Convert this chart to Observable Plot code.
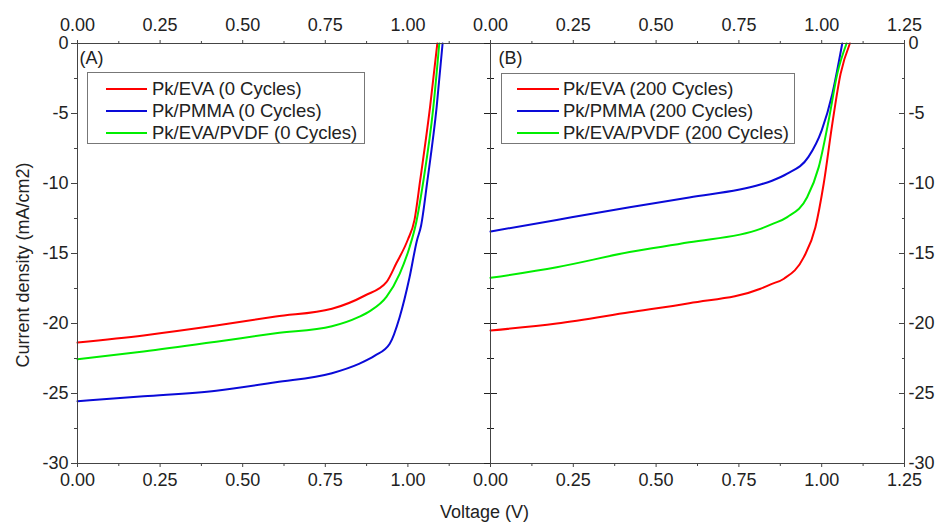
<!DOCTYPE html>
<html>
<head>
<meta charset="utf-8">
<script src="https://cdn.jsdelivr.net/npm/d3@7"></script>
<script src="https://cdn.jsdelivr.net/npm/@observablehq/plot@0.6"></script>
<style>
  html, body { margin: 0; padding: 0; background: #fff; }
  #wrap { position: relative; width: 943px; height: 525px; font-family: "Liberation Sans", Arial, sans-serif; color: #222; }
  #wrap svg { position: absolute; top: 0; }
  .legend { position: absolute; border: 1px solid #777; background: #fff; box-sizing: border-box; }
  .row { position: absolute; left: 0; height: 22px; line-height: 22px; font-size: 18.5px; white-space: nowrap; }
  .sw { position: absolute; height: 2px; }
  .lbl { position: absolute; top: 0; }
  .title { position: absolute; font-size: 18px; white-space: nowrap; color: #222; }
</style>
</head>
<body>
<div id="wrap"></div>
<script>
// ---------- data ----------
const xMajor = [0, 0.25, 0.5, 0.75, 1.0];
const xMajorB = [0, 0.25, 0.5, 0.75, 1.0, 1.25];
const xMinor = [0.125, 0.375, 0.625, 0.875, 1.125];
const yMajor = [0, -5, -10, -15, -20, -25, -30];
const yMinor = [-2.5, -7.5, -12.5, -17.5, -22.5, -27.5];

// Panel A (0 cycles)
const vEva0  = [0, 0.2, 0.42, 0.6, 0.77, 0.87, 0.935, 0.965, 1.0, 1.02, 1.037, 1.067, 1.089];
const jEva0  = [-21.36, -20.85, -20.15, -19.5, -18.95, -18.0, -17.05, -15.7, -14.0, -12.6, -9.8, -4.55, 0];
const vPmma0 = [0, 0.2, 0.42, 0.6, 0.77, 0.85, 0.9, 0.945, 0.975, 1.005, 1.027, 1.04, 1.059, 1.087, 1.105];
const jPmma0 = [-25.55, -25.2, -24.8, -24.2, -23.55, -22.9, -22.3, -21.45, -19.55, -16.7, -14.1, -13.0, -9.8, -4.55, 0];
const vPvdf0 = [0, 0.2, 0.42, 0.6, 0.77, 0.85, 0.886, 0.935, 0.975, 1.005, 1.025, 1.047, 1.077, 1.095];
const jPvdf0 = [-22.55, -22.0, -21.3, -20.7, -20.2, -19.55, -19.1, -18.1, -16.45, -14.55, -12.8, -9.8, -4.55, 0];

// Panel B (200 cycles)
const vEva200  = [0, 0.2, 0.42, 0.6, 0.815, 0.846, 0.886, 0.946, 0.981, 1.006, 1.032, 1.057, 1.085];
const jEva200  = [-20.5, -20.0, -19.2, -18.55, -17.52, -17.2, -16.8, -15.26, -13.12, -10.02, -5.74, -2.17, 0];
const vPmma200 = [0, 0.2, 0.42, 0.6, 0.815, 0.85, 0.896, 0.96, 1.0, 1.032, 1.062];
const jPmma200 = [-13.43, -12.6, -11.7, -11.0, -10.07, -9.8, -9.3, -8.1, -6.2, -3.6, 0];
const vPvdf200 = [0, 0.2, 0.42, 0.6, 0.815, 0.85, 0.896, 0.956, 0.991, 1.021, 1.047, 1.075];
const jPvdf200 = [-16.74, -15.98, -14.9, -14.2, -13.24, -12.9, -12.4, -10.98, -8.83, -5.5, -2.17, 0];

const namesA = ["Pk/EVA (0 Cycles)", "Pk/PMMA (0 Cycles)", "Pk/EVA/PVDF (0 Cycles)"];
const namesB = ["Pk/EVA (200 Cycles)", "Pk/PMMA (200 Cycles)", "Pk/EVA/PVDF (200 Cycles)"];
const colors = ["#ff0000", "#0a0ad8", "#00ee00"];

// ---------- build tables ----------
function table(name, vs, js) { return vs.map((v, i) => ({name, v, j: js[i]})); }
const dataA = [
  ...table(namesA[0], vEva0, jEva0),
  ...table(namesA[1], vPmma0, jPmma0),
  ...table(namesA[2], vPvdf0, jPvdf0)
];
const dataB = [
  ...table(namesB[0], vEva200, jEva200),
  ...table(namesB[1], vPmma200, jPmma200),
  ...table(namesB[2], vPvdf200, jPvdf200)
];

const axisColor = "#444";
const fmtX = d => d.toFixed(2);
const fmtY = d => String(d);
const common = {
  height: 525, marginTop: 43, marginBottom: 62,
  x: {domain: [0, 1.25]},
  y: {domain: [-30, 0]},
  style: {fontFamily: "Liberation Sans, Arial, sans-serif", fontSize: "18px", color: "#222", background: "transparent", overflow: "visible"}
};

function lines(data, names) {
  return Plot.line(data, {x: "v", y: "j", z: "name", stroke: d => colors[names.indexOf(d.name)], strokeWidth: 2, curve: "monotone-x"});
}

const left = Plot.plot({
  ...common,
  width: 496, marginLeft: 77, marginRight: 6,
  marks: [
    Plot.axisY(yMajor, {anchor: "left", tickSize: 6, tickPadding: 3, tickFormat: fmtY, stroke: axisColor, label: null}),
    Plot.axisY(yMinor, {anchor: "left", tickSize: 3, fill: "none", stroke: axisColor, label: null}),
    Plot.axisY(yMajor, {anchor: "right", tickSize: 6, fill: "none", stroke: "#222", label: null}),
    Plot.axisY(yMinor, {anchor: "right", tickSize: 3, fill: "none", stroke: "#222", label: null}),
    Plot.axisX(xMajor, {anchor: "bottom", tickSize: 4, tickPadding: 6, tickFormat: fmtX, stroke: axisColor, label: null}),
    Plot.axisX(xMinor, {anchor: "bottom", tickSize: 3, fill: "none", stroke: axisColor, label: null}),
    Plot.axisX(xMajor, {anchor: "top", tickSize: 0, tickPadding: 13, tickFormat: fmtX, label: null}),
    Plot.axisX(xMajor, {anchor: "top", tickSize: 4, fill: "none", stroke: axisColor, label: null}),
    Plot.axisX(xMinor, {anchor: "top", tickSize: 3, fill: "none", stroke: axisColor, label: null}),
    lines(dataA, namesA),
    Plot.frame({stroke: axisColor}),
    Plot.text(["(A)"], {frameAnchor: "top-left", dx: 2, dy: 8, textAnchor: "start", lineAnchor: "top", fontSize: 18, fill: "#222"})
  ]
});

const right = Plot.plot({
  ...common,
  width: 459, marginLeft: 6, marginRight: 39,
  marks: [
    Plot.axisY(yMajor, {anchor: "left", tickSize: 6, fill: "none", stroke: "#222", label: null}),
    Plot.axisY(yMinor, {anchor: "left", tickSize: 3, fill: "none", stroke: "#222", label: null}),
    Plot.axisY(yMajor, {anchor: "right", tickSize: 0, tickPadding: 4, tickFormat: fmtY, label: null}),
    Plot.axisY(yMajor, {anchor: "right", tickSize: -6, fill: "none", stroke: axisColor, label: null}),
    Plot.axisY(yMinor, {anchor: "right", tickSize: -3, fill: "none", stroke: axisColor, label: null}),
    Plot.axisX(xMajorB, {anchor: "bottom", tickSize: 4, tickPadding: 6, tickFormat: fmtX, stroke: axisColor, label: null}),
    Plot.axisX(xMinor, {anchor: "bottom", tickSize: 3, fill: "none", stroke: axisColor, label: null}),
    Plot.axisX(xMajorB, {anchor: "top", tickSize: 0, tickPadding: 13, tickFormat: fmtX, label: null}),
    Plot.axisX(xMajorB, {anchor: "top", tickSize: 4, fill: "none", stroke: axisColor, label: null}),
    Plot.axisX(xMinor, {anchor: "top", tickSize: 3, fill: "none", stroke: axisColor, label: null}),
    lines(dataB, namesB),
    Plot.frame({stroke: axisColor}),
    Plot.text(["(B)"], {frameAnchor: "top-left", dx: 8, dy: 8, textAnchor: "start", lineAnchor: "top", fontSize: 18, fill: "#222"})
  ]
});

const wrap = document.getElementById("wrap");
left.style.left = "0px";
right.style.left = "484px";
wrap.appendChild(left);
wrap.appendChild(right);

// ---------- legends ----------
function legend(names, box) {
  const div = document.createElement("div");
  div.className = "legend";
  Object.assign(div.style, {left: box.left + "px", top: box.top + "px", width: box.width + "px", height: box.height + "px"});
  names.forEach((n, i) => {
    const row = document.createElement("div");
    row.className = "row";
    row.style.top = (box.row0 + i * 22 - 11) + "px";
    row.style.width = "100%";
    const sw = document.createElement("div");
    sw.className = "sw";
    Object.assign(sw.style, {left: box.swLeft + "px", width: box.swWidth + "px", top: "10px", background: colors[i]});
    const t = document.createElement("div");
    t.className = "lbl";
    t.style.left = box.textLeft + "px";
    t.textContent = n;
    row.appendChild(sw);
    row.appendChild(t);
    div.appendChild(row);
  });
  wrap.appendChild(div);
}
legend(namesA, {left: 87, top: 72, width: 278, height: 72, row0: 16, swLeft: 18, swWidth: 41, textLeft: 64});
legend(namesB, {left: 501, top: 73, width: 294, height: 71, row0: 15, swLeft: 15, swWidth: 42, textLeft: 61});

// ---------- axis titles ----------
const xt = document.createElement("div");
xt.className = "title";
xt.textContent = "Voltage (V)";
Object.assign(xt.style, {left: "440px", top: "502px"});
wrap.appendChild(xt);

const yt = document.createElement("div");
yt.className = "title";
yt.textContent = "Current density (mA/cm2)";
Object.assign(yt.style, {left: "23px", top: "265px", transform: "translate(-50%, -50%) rotate(-90deg)"});
wrap.appendChild(yt);
</script>
</body>
</html>
